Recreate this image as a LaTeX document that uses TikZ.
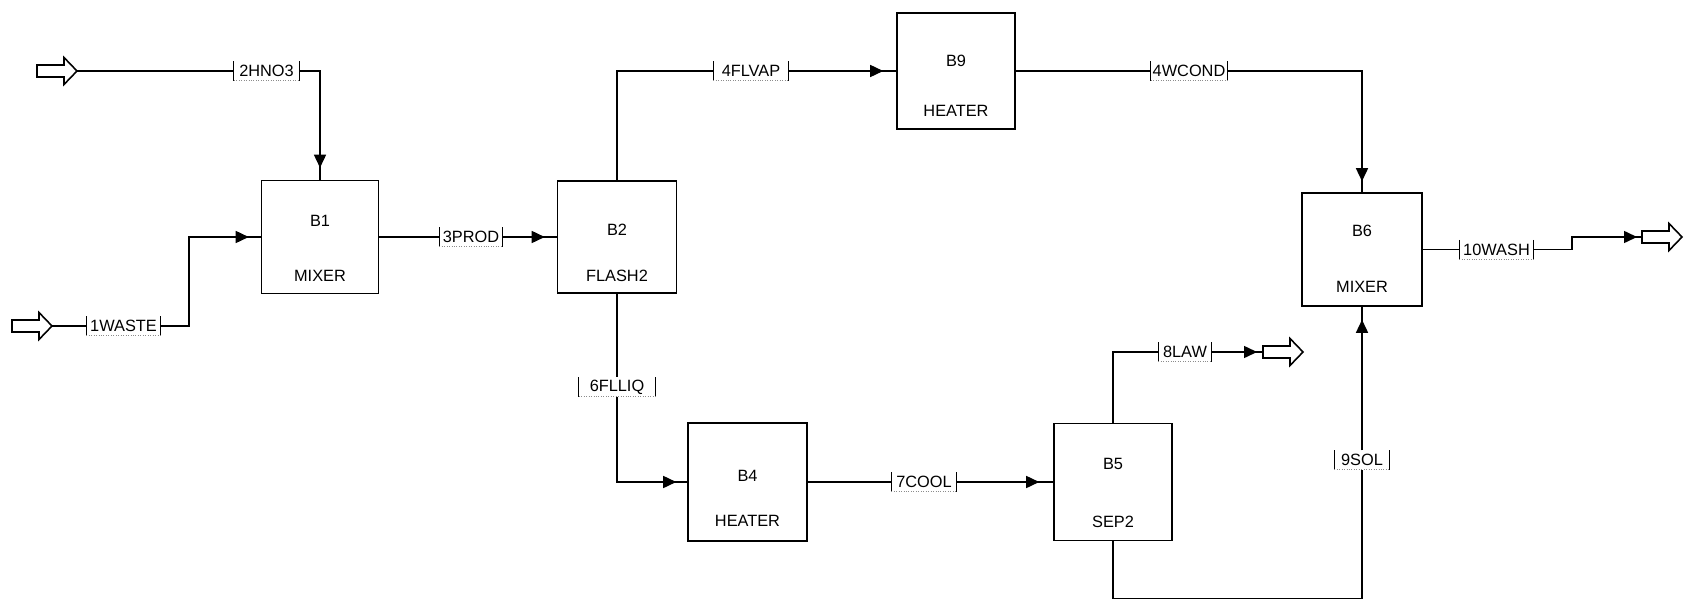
\documentclass[tikz,border=0pt]{standalone}
\usepackage{fontspec}
\newfontfamily\diafont{Liberation Sans}
\usetikzlibrary{arrows.meta,decorations.markings,calc}
\tikzset{
  feed/.pic={
    \draw[line width=0.9pt, line join=miter] (0,-6) -- (27,-6) -- (27,-13.5) -- (40,0) -- (27,13.5) -- (27,6) -- (0,6) -- cycle;
    \coordinate (-tail) at (0,0);
    \coordinate (-tip) at (40,0);
  }
}
\begin{document}
\begin{tikzpicture}[x=0.02cm,y=-0.02cm,
  line width=0.85pt,
  blk/.style={draw, line width=0.9pt, inner sep=0pt},
  btxt/.style={font=\diafont\fontsize{9.3}{11}\selectfont, inner sep=0pt},
  strm/.style={font=\diafont\fontsize{9.3}{11}\selectfont, inner sep=0pt,
     minimum height=0.36cm, minimum width=#1},
  bar/.style={line width=0.5pt},
  dotbar/.style={line width=0.4pt, densely dotted, black!45},
  flow/.style={postaction={decorate, decoration={markings,
     mark=at position -#1 with {\arrow{Triangle[length=0.26cm,width=0.24cm]}}}}},
  flow/.default=0.24cm
]
\useasboundingbox (0,0) rectangle (1684,605);

% blocks
\node[blk, minimum width=2.34cm, minimum height=2.26cm] (B1) at (320,237) {};
\node[blk, minimum width=2.38cm, minimum height=2.24cm] (B2) at (617,237) {};
\node[blk, minimum width=2.36cm, minimum height=2.32cm] (B9) at (956,71) {};
\node[blk, minimum width=2.40cm, minimum height=2.26cm] (B6) at (1362,249.5) {};
\node[blk, minimum width=2.38cm, minimum height=2.36cm] (B4) at (747.5,482) {};
\node[blk, minimum width=2.36cm, minimum height=2.34cm] (B5) at (1113,482) {};

% block texts
\node[btxt] (t1a) at ($(B1.north)+(0,41)$) {B1};
\node[btxt] (t1b) at ($(B1.north)+(0,96)$) {MIXER};
\node[btxt] (t2a) at ($(B2.north)+(0,50)$) {B2};
\node[btxt] (t2b) at ($(B2.north)+(0,96)$) {FLASH2};
\node[btxt] (t9a) at ($(B9.north)+(0,49)$) {B9};
\node[btxt] (t9b) at ($(B9.north)+(0,99)$) {HEATER};
\node[btxt] (t6a) at ($(B6.north)+(0,39)$) {B6};
\node[btxt] (t6b) at ($(B6.north)+(0,95)$) {MIXER};
\node[btxt] (t4a) at ($(B4.north)+(0,54)$) {B4};
\node[btxt] (t4b) at ($(B4.north)+(0,99)$) {HEATER};
\node[btxt] (t5a) at ($(B5.north)+(0,41)$) {B5};
\node[btxt] (t5b) at ($(B5.north)+(0,99)$) {SEP2};

% feed / product arrows
\pic (in2) at (37,71) {feed};
\pic (in1) at (12,326) {feed};
\pic (out8) at (1263,352) {feed};
\pic (out10) at (1642,237) {feed};

% stream labels
\node[strm=1.28cm] (L2) at (266.5,71) {2HNO3};
\node[strm=1.46cm] (L1) at (123.5,326) {1WASTE};
\node[strm=1.24cm] (L3) at (471,237) {3PROD};
\node[strm=1.48cm] (L4V) at (751,71) {4FLVAP};
\node[strm=1.50cm] (L4W) at (1189,71) {4WCOND};
\node[strm=1.46cm] (L10) at (1496.5,249.5) {10WASH};
\node[strm=1.50cm] (L6) at (617,387) {6FLLIQ};
\node[strm=1.28cm] (L7) at (924,482) {7COOL};
\node[strm=1.04cm] (L8) at (1185,352) {8LAW};
\node[strm=1.08cm] (L9) at (1362,460) {9SOL};
\foreach \n in {L1,L2,L3,L4V,L4W,L10,L6,L7,L8,L9} {
  \draw[bar] (\n.north west) -- (\n.south west) (\n.north east) -- (\n.south east);
  \draw[dotbar] (\n.south west) -- (\n.south east);
}

% connectors
\draw (in2-tip) -- (L2);
\draw[flow] (L2) -| (B1);
\draw (in1-tip) -- (L1);
\draw[flow] (L1) -- ++(65.5,0) |- (B1);
\draw (B1) -- (L3);
\draw[flow] (L3) -- (B2);
\draw (B2) |- (L4V);
\draw[flow=0.26cm] (L4V) -- (B9);
\draw (B9) -- (L4W);
\draw[flow=0.22cm] (L4W) -| (B6);
\draw (B6) -- (L10);
\draw[flow=0.10cm] (L10) -- ++(75.5,0) |- (out10-tail);
\draw (B2) -- (L6);
\draw[flow=0.22cm] (L6) |- (B4);
\draw (B4) -- (L7);
\draw[flow=0.28cm] (L7) -- (B5);
\draw (B5) |- (L8);
\draw[flow=0.12cm] (L8) -- (out8-tail);
\draw (B5) -- ++(0,116.5) -| (L9);
\draw[flow=0.26cm] (L9) -- (B6);
\end{tikzpicture}
\end{document}
